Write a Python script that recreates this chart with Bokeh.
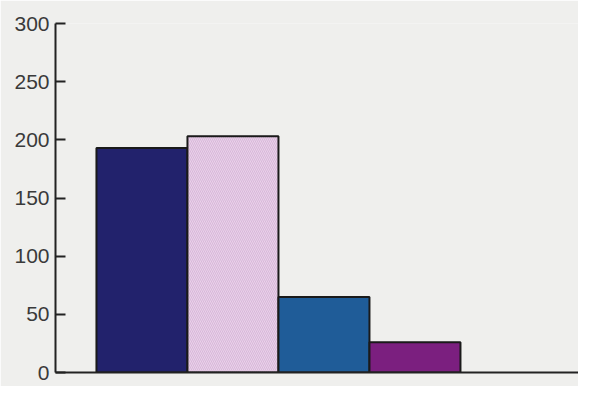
from bokeh.plotting import figure
from bokeh.models import Range1d, FixedTicker, ColumnDataSource
from bokeh.embed import file_html
from bokeh.resources import INLINE

categories = ["A", "B", "C", "D"]
values = [193, 203, 65, 26]
colors = ["#22226c", "#d9b6da", "#1f5c98", "#7b1f7f"]
hatches = ["blank", "\\", "blank", "blank"]
y_ticks = [0, 50, 100, 150, 200, 250, 300]

xs = [i + 1 for i in range(len(categories))]
src = ColumnDataSource(dict(x=xs, top=values, color=colors, hatch=hatches, cat=categories))

BG = "#efefed"
p = figure(width=578, height=386, output_backend="svg", toolbar_location=None,
           x_range=Range1d(0.05, 5.797), y_range=Range1d(0, 300),
           min_border_left=55, min_border_right=0, min_border_top=23, min_border_bottom=14,
           background_fill_color=BG, border_fill_color=BG)
p.outline_line_color = None
p.grid.visible = False

p.vbar(x="x", top="top", width=1, bottom=0, source=src, fill_color="color",
       line_color="#1a1a1a", line_width=2,
       hatch_pattern="hatch", hatch_color="white", hatch_alpha=0.4, hatch_scale=4, hatch_weight=1)

ya = p.yaxis[0]
ya.ticker = FixedTicker(ticks=y_ticks)
ya.axis_line_color = "#222222"
ya.axis_line_width = 2
ya.major_tick_line_color = "#222222"
ya.major_tick_line_width = 2
ya.major_tick_in = 10
ya.major_tick_out = 0
ya.minor_tick_line_color = None
ya.major_label_text_font = "Liberation Sans"
ya.major_label_text_font_size = "21px"
ya.major_label_text_color = "#3a3a3a"
ya.major_label_standoff = 6

xa = p.xaxis[0]
xa.ticker = FixedTicker(ticks=[])
xa.axis_line_color = "#222222"
xa.axis_line_width = 2
xa.major_tick_line_color = None
xa.minor_tick_line_color = None
xa.major_label_text_font_size = "0px"

open("out.html", "w").write(file_html(p, INLINE))
